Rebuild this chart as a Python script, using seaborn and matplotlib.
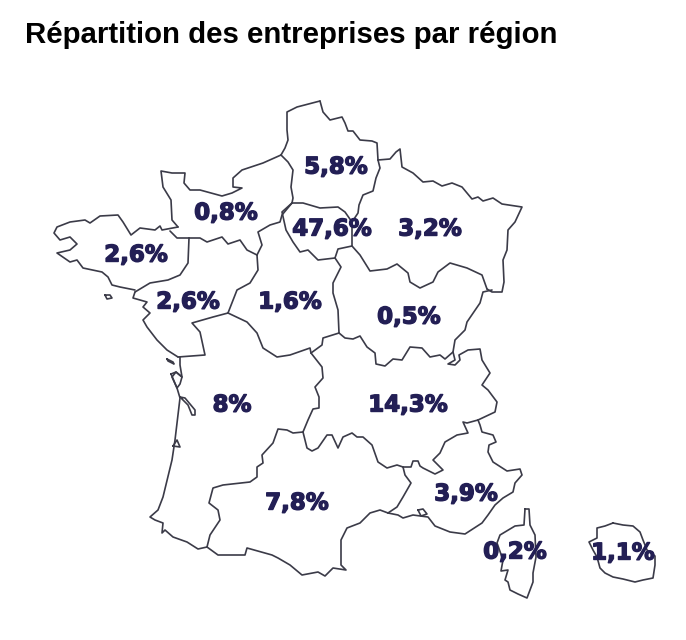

# Répartition des entreprises par région - carte de France

import pandas as pd
import matplotlib.pyplot as plt
import matplotlib.patheffects as pe
import seaborn as sns

# === 1. Données ===

titre = "Répartition des entreprises par région"
etiquettes = ["5,8%", "0,8%", "47,6%", "3,2%", "2,6%", "2,6%", "1,6%",
              "0,5%", "8%", "14,3%", "7,8%", "3,9%", "0,2%", "1,1%"]
etiq_x = [336, 226, 332, 430, 136, 188, 290, 409, 232, 408, 297, 466, 515, 623]
etiq_y = [167, 213, 229, 229, 255, 302, 302, 317, 405, 405, 503, 494, 552, 553]

# tracés des frontières (coordonnées de la carte)
hdf_cote = [(281,155),(285,148),(288,140),(287,130),(287,112),(297,107),(320,101)]
hdf_nord = [(320,101),(323,112),(330,120),(342,117),(345,123),(348,131),(353,131),(360,140),(372,141),(377,143),(378,160)]
hdf_est = [(378,160),(380,168),(376,178),(373,191),(363,195),(359,205),(358,213),(352,222)]
hdf_ouest = [(281,155),(288,162),(293,170),(291,187),(293,198),(292,203)]
idf_nord = [(292,203),(303,203),(320,208),(338,207),(345,212),(352,222)]
idf_sud = [(292,203),(282,212),(286,230),(293,242),(300,252),(308,250),(318,260),(335,258),(338,249),(352,246),(352,222)]
ge_nord = [(378,160),(390,159),(396,152),(400,149),(402,167),(413,173),(423,182),(433,181),(442,186),(452,183),(462,187),
           (472,199),(478,197),(483,201),(493,198),(502,204),(522,207),(515,222),(508,230),(507,250),(503,260),(504,282),
           (502,292),(492,292),(487,289)]
ge_sud = [(352,246),(360,255),(370,271),(387,269),(397,264),(408,273),(410,282),(420,288),(433,282),(438,272),(450,263),
          (467,268),(482,275),(487,289)]
bfc_ouest = [(335,258),(341,267),(338,273),(333,283),(333,293),(338,310),(339,333)]
bfc_sud = [(339,333),(345,338),(353,339),(360,336),(367,347),(375,353),(376,364),(385,366),(393,359),(402,360),(410,347),
           (422,348),(430,357),(440,355),(445,359),(453,352),(455,340),(465,330),(467,322),(480,303),(483,292),(492,290)]
aura_nord = [(339,333),(323,338),(322,345),(311,353)]
aura_na = [(311,353),(322,367),(323,378),(315,387),(319,397),(319,408),(313,409),(308,420),(303,432)]
aura_occ = [(303,432),(307,448),(312,451),(318,448),(327,435),(332,435),(338,448),(343,437),(352,433),(357,437),(363,437),
            (372,445),(378,462),(387,468),(397,465),(403,467)]
occ_paca = [(403,467),(405,475),(411,483),(403,497),(397,507),(388,513)]
aura_paca = [(403,467),(411,467),(413,461),(418,461),(420,466),(423,468),(435,474),(443,470),(433,460),(440,453),(445,442),
             (457,435),(468,433),(463,422),(467,423),(478,420)]
aura_est = [(478,420),(495,412),(497,402),(488,390),(482,385),(490,373),(482,360),(480,349),(468,350),(459,355),(460,360),
            (455,365),(448,364),(455,360),(453,352)]
paca_est = [(478,420),(480,425),(482,432),(493,435),(496,442),(489,445),(488,452),(493,462),(507,471),(520,469),(522,475),
            (515,483),(513,492),(503,498),(495,505),(488,515),(482,523),(465,534),(450,532),(435,526),(428,517),(413,515),
            (403,518),(398,515),(388,513)]
berre = [(418,510),(423,509),(427,514),(421,516),(418,510)]
occ_cote = [(388,513),(380,510),(370,513),(360,523),(347,528),(341,540),(341,565),(346,570),(333,568),(325,576),(318,572),
            (302,575),(290,565),(278,558),(272,555),(247,548),(245,555),(218,555),(207,547)]
na_cote = [(207,547),(198,549),(187,542),(173,537),(165,530),(162,533),(163,523),(155,520),(150,517),(158,510),(163,497),
           (172,460),(175,440),(180,398),(177,388),(172,377),(176,372),(182,377),(180,365),(180,357)]
gironde = [(180,397),(185,398),(195,410),(195,415),(192,415),(188,405),(180,397)]
arcachon = [(173,446),(180,447),(177,440),(173,446)]
ile_re = [(167,359),(173,362),(174,364),(168,361),(167,359)]
ile_oleron = [(171,374),(176,372),(182,377),(180,384),(177,388),(171,374)]
pdl_cote = [(178,357),(167,350),(157,340),(147,327),(143,320),(150,313),(143,307),(147,302),(133,298),(135,292)]
bzh_pdl = [(135,292),(150,283),(168,280),(180,275),(188,263),(189,238)]
bzh_cote = [(135,290),(120,287),(112,285),(108,277),(102,272),(83,268),(77,260),(70,262),(57,253),(70,250),(77,244),(70,237),
            (60,240),(54,233),(57,227),(70,222),(85,220),(90,223),(100,216),(118,215),(123,222),(131,235),(140,228),(155,230),
            (160,226),(162,230),(178,227)]
bzh_norm = [(170,231),(177,238),(189,238)]
norm_cote = [(178,227),(172,220),(171,200),(163,187),(161,171),(172,173),(185,173),(184,183),(190,190),(200,190),(222,196),
             (232,193),(242,188),(233,187),(233,178),(242,170),(263,163),(281,155)]
norm_sud = [(189,238),(200,238),(207,242),(222,237),(228,244),(240,240),(247,250),(257,255)]
cvl_nord = [(257,255),(262,245),(258,232),(270,225),(280,222),(282,215),(292,203)]
cvl_pdl = [(257,255),(258,270),(250,283),(237,290),(228,313)]
pdl_na = [(228,313),(213,317),(192,323),(200,332),(205,355),(178,357)]
cvl_na = [(228,313),(247,322),(257,333),(263,348),(277,357),(290,355),(310,348),(311,353)]
na_occ = [(303,432),(293,433),(287,430),(278,429),(273,443),(262,455),(263,463),(257,467),(257,477),(250,482),(223,485),
          (213,488),(209,503),(218,510),(220,520),(210,535),(207,547)]
ile_yeu = [(105,295),(110,295),(112,298),(107,299),(105,295)]
corse = [(525,509),(529,509),(530,525),(535,535),(536,557),(533,573),(533,582),(527,598),(518,594),(510,590),(508,582),
         (505,580),(508,570),(501,571),(503,560),(497,543),(500,535),(515,526),(524,525),(525,509)]
reunion = [(613,523),(623,525),(633,526),(640,532),(643,540),(647,550),(655,556),(655,565),(653,578),(643,580),(635,582),
           (623,579),(613,577),(605,573),(600,568),(597,557),(593,550),(589,542),(597,538),(597,528),(605,526),(613,523)]

traces = [hdf_cote, hdf_nord, hdf_est, hdf_ouest, idf_nord, idf_sud, ge_nord, ge_sud, bfc_ouest, bfc_sud, aura_nord,
          aura_na, aura_occ, occ_paca, aura_paca, aura_est, paca_est, berre, occ_cote, na_cote, gironde, arcachon,
          ile_re, ile_oleron, pdl_cote, bzh_pdl, bzh_cote, bzh_norm, norm_cote, norm_sud, cvl_nord, cvl_pdl, pdl_na,
          cvl_na, na_occ, ile_yeu, corse, reunion]

# === 2. Mise en forme pour seaborn ===

lignes = []
for i, trace in enumerate(traces):
    for x, y in trace:
        lignes.append({"trace": i, "x": x, "y": y})
df = pd.DataFrame(lignes)

# === 3. Carte ===

sns.set_style("white")
fig = plt.figure(figsize=(6.86, 6.40), dpi=100)
ax = fig.add_axes([0, 0, 1, 1])

sns.lineplot(data=df, x="x", y="y", units="trace", estimator=None, sort=False,
             color="#3b3b48", linewidth=1.2, legend=False, ax=ax,
             solid_joinstyle="round")

ax.set_xlim(0, 686)
ax.set_ylim(640, 0)
ax.axis("off")

for txt, x, y in zip(etiquettes, etiq_x, etiq_y):
    ax.text(x, y, txt, ha="center", va="center", fontsize=16.5, fontweight="bold",
            family="DejaVu Sans", color="#231f55",
            path_effects=[pe.withStroke(linewidth=1.0, foreground="#231f55")])

ax.text(25, 43, titre, ha="left", va="baseline", fontsize=21.2, fontweight="bold",
        family="Liberation Sans", color="#000000")

plt.savefig("out.png", dpi=100)
plt.close()
